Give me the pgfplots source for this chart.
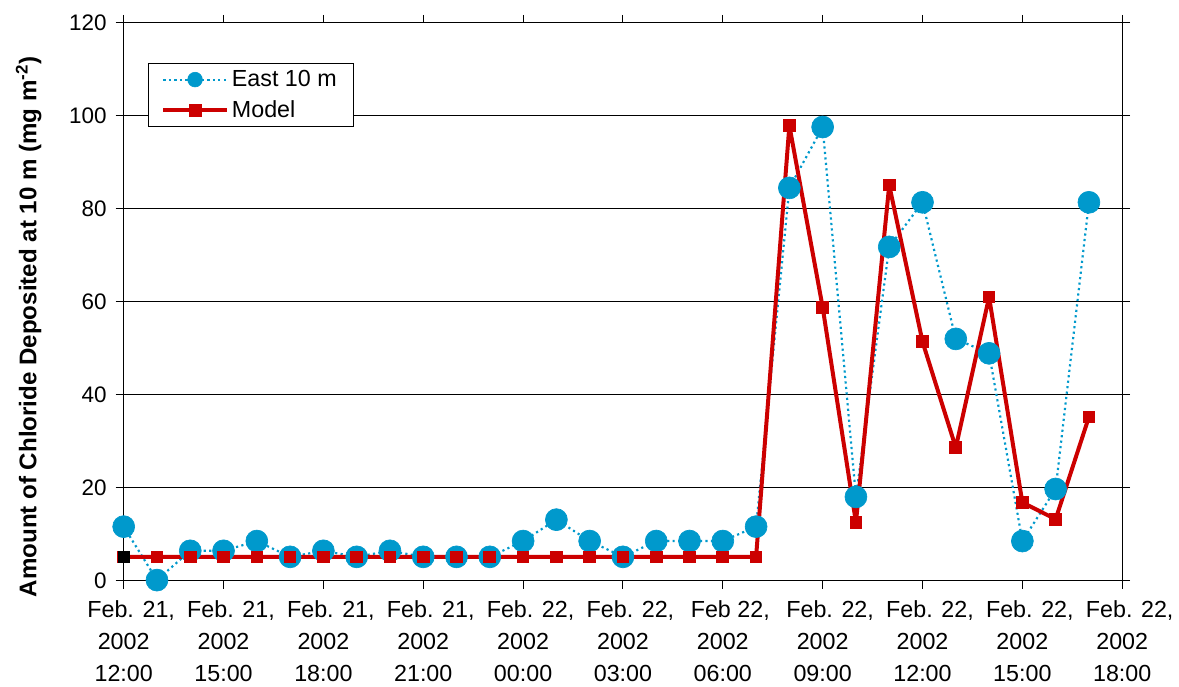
\documentclass[border=0pt]{standalone}
\usepackage{fontspec}
\setmainfont{Liberation Sans}
\usepackage{pgfplots}
\pgfplotsset{compat=1.18}

\definecolor{eastblue}{HTML}{0099CC}
\definecolor{modelred}{HTML}{CC0000}
% first line of each date label sits a little right of the tick
\newcommand{\fl}[1]{\hspace*{9pt}#1}
% long legend sample with a smaller mark
\pgfplotsset{
  longleg/.style={legend image code/.code={\draw[mark repeat=2,mark phase=2,##1,mark size=#1]
    plot coordinates {(0pt,0pt) (19pt,0pt) (38pt,0pt)};}},
}

\begin{document}
\begin{tikzpicture}
\begin{axis}[
  scale only axis,
  width=600.6pt,
  height=335.4pt,
  xmin=0, xmax=30,
  ymin=0, ymax=120,
  xtick={0,3,...,30},
  ytick={0,20,...,120},
  xticklabels={
    {\fl{Feb. 21,}\\2002\\12:00},{\fl{Feb. 21,}\\2002\\15:00},{\fl{Feb. 21,}\\2002\\18:00},
    {\fl{Feb. 21,}\\2002\\21:00},{\fl{Feb. 22,}\\2002\\00:00},{\fl{Feb. 22,}\\2002\\03:00},
    {\fl{Feb 22,}\\2002\\06:00},{\fl{Feb. 22,}\\2002\\09:00},{\fl{Feb. 22,}\\2002\\12:00},
    {\fl{Feb. 22,}\\2002\\15:00},{\fl{Feb. 22,}\\2002\\18:00}},
  x tick label style={font=\fontsize{14}{19}\selectfont, align=center, yshift=-4pt},
  y tick label style={font=\fontsize{13.5}{16}\selectfont, xshift=-2pt},
  /pgf/number format/assume math mode=true,
  tick align=outside,
  major tick length=4.8pt,
  tick style={black, line width=0.6pt},
  axis line style={line width=0.6pt},
  ymajorgrids=true,
  grid style={black, line width=0.6pt},
  ylabel={\bfseries Amount of Chloride Deposited at 10 m (mg m\textsuperscript{-2})},
  ylabel style={font=\fontsize{14.5}{17}\selectfont, at={(axis description cs:-0.082,0.455)},
    anchor=south, inner sep=0pt},
  legend style={at={(0.024,0.928)}, anchor=north west, draw=black, line width=0.6pt,
    font=\fontsize{14}{17}\selectfont, row sep=3pt, inner xsep=8pt, inner ysep=2pt},
  legend cell align=left,
  clip=false,
]
\addplot[eastblue, dotted, line width=1.3pt, mark=*, mark size=6.6pt,
  mark options={solid, fill=eastblue, draw=eastblue, line width=0.4pt},
  longleg=4.4pt] coordinates {
  (0,11.6) (1,0.1) (2,6.4) (3,6.4) (4,8.5) (5,5.1) (6,6.4) (7,5.1) (8,6.4) (9,5.1)
  (10,5.1) (11,5.1) (12,8.5) (13,13.1) (14,8.5) (15,5.1) (16,8.5) (17,8.5) (18,8.5) (19,11.6)
  (20,84.5) (21,97.6) (22,18.0) (23,71.8) (24,81.4) (25,52.0) (26,48.9) (27,8.5) (28,19.7) (29,81.4)
};
\addlegendentry{East 10 m}
\addplot[modelred, line width=2.4pt, line join=round, mark=square*, mark size=3.5pt,
  mark options={solid, fill=modelred, draw=modelred, line width=0pt},
  longleg=3.6pt] coordinates {
  (0,5.1) (1,5.1) (2,5.1) (3,5.1) (4,5.1) (5,5.1) (6,5.1) (7,5.1) (8,5.1) (9,5.1)
  (10,5.1) (11,5.1) (12,5.1) (13,5.1) (14,5.1) (15,5.1) (16,5.1) (17,5.1) (18,5.1) (19,5.1)
  (20,97.9) (21,58.8) (22,12.5) (23,85.1) (24,51.4) (25,28.6) (26,61.0) (27,16.8) (28,13.2) (29,35.2)
};
\addlegendentry{Model}
\addplot[only marks, mark=square*, mark size=3.5pt, black, forget plot] coordinates {(0,5.1)};
\end{axis}
% white margin as in the reference
\path (current axis.south west) +(-74.4pt,-63.6pt) (current axis.north east) +(32.4pt,13.8pt);
\end{tikzpicture}
\end{document}
